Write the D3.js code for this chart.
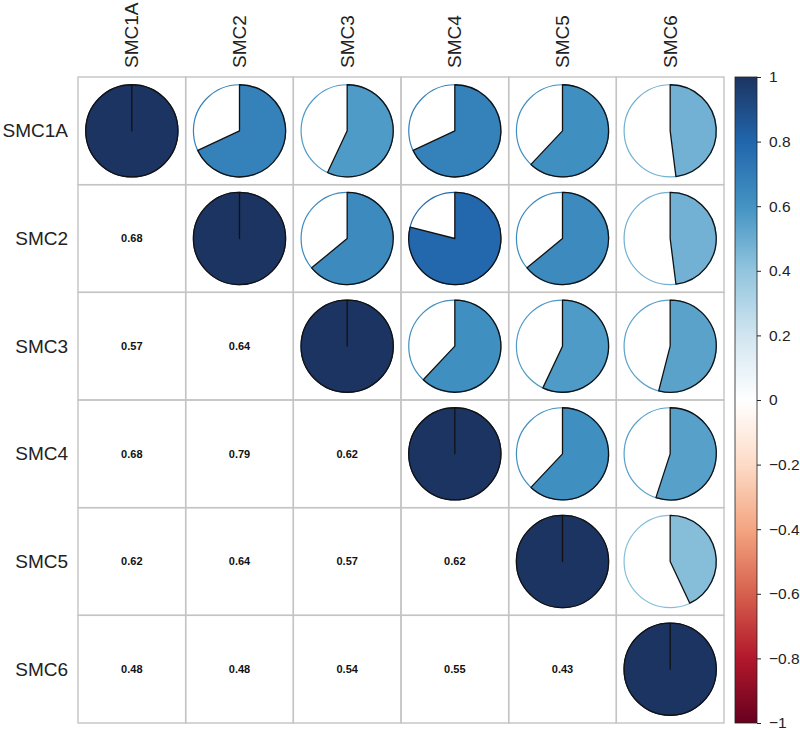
<!DOCTYPE html>
<html>
<head>
<meta charset="utf-8">
<script src="https://cdn.jsdelivr.net/npm/d3@7"></script>
<style>
  body { margin: 0; background: #fff; }
  text { font-family: "Liberation Sans", Arial, sans-serif; }
</style>
</head>
<body>
<div id="chart"></div>
<script>
var vars = ['SMC1A', 'SMC2', 'SMC3', 'SMC4', 'SMC5', 'SMC6'];

// correlation matrix rows (symmetric)
var corr = [
    [1.00, 0.68, 0.57, 0.68, 0.62, 0.48],
    [0.68, 1.00, 0.64, 0.79, 0.64, 0.48],
    [0.57, 0.64, 1.00, 0.62, 0.57, 0.54],
    [0.68, 0.79, 0.62, 1.00, 0.62, 0.55],
    [0.62, 0.64, 0.57, 0.62, 1.00, 0.43],
    [0.48, 0.48, 0.54, 0.55, 0.43, 1.00]
];

var barTicks = [1, 0.8, 0.6, 0.4, 0.2, 0, -0.2, -0.4, -0.6, -0.8, -1];
var palette = ['#67001F', '#B2182B', '#D6604D', '#F4A582', '#FDDBC7', '#FFFFFF',
               '#D1E5F0', '#92C5DE', '#4393C3', '#2166AC', '#1C3461'];

var width = 800, height = 730;

var svg = d3.select('#chart')
    .append('svg')
    .attr('width', width)
    .attr('height', height);

var x = d3.scaleBand().domain(vars).range([78, 724]);
var y = d3.scaleBand().domain(vars).range([77, 723]);

var color = d3.scaleLinear()
    .domain(d3.range(11).map(function(i) { return -1 + i * 0.2; }))
    .range(palette)
    .interpolate(d3.interpolateRgb);

var cells = [];
vars.forEach(function(rv, i) {
    vars.forEach(function(cv, j) {
        cells.push({ row: rv, col: cv, i: i, j: j, v: corr[i][j] });
    });
});

// grid
svg.selectAll('.cell')
    .data(cells)
    .enter()
    .append('rect')
    .attr('class', 'cell')
    .attr('x', function(d) { return x(d.col); })
    .attr('y', function(d) { return y(d.row); })
    .attr('width', x.bandwidth())
    .attr('height', y.bandwidth())
    .attr('fill', 'none')
    .attr('stroke', '#c4c4c4')
    .attr('stroke-width', 1.4);

// upper triangle + diagonal: pies
var upper = cells.filter(function(d) { return d.j >= d.i; });
var r = x.bandwidth() * 0.428;

var pie = svg.selectAll('.pie')
    .data(upper)
    .enter()
    .append('g')
    .attr('class', 'pie')
    .attr('transform', function(d) {
        return 'translate(' + (x(d.col) + x.bandwidth() / 2) + ',' + (y(d.row) + y.bandwidth() / 2) + ')';
    });

pie.append('circle')
    .attr('r', r)
    .attr('fill', '#fff')
    .attr('stroke', function(d) { return color(d.v); })
    .attr('stroke-width', 1.2);

pie.append('path')
    .attr('d', function(d) {
        var p = d3.path();
        var a0 = -Math.PI / 2;
        p.moveTo(0, 0);
        p.lineTo(0, -r);
        p.arc(0, 0, r, a0, a0 + 2 * Math.PI * d.v);
        p.closePath();
        return p.toString();
    })
    .attr('fill', function(d) { return color(d.v); })
    .attr('stroke', '#111')
    .attr('stroke-width', 1.3)
    .attr('stroke-linejoin', 'round');

// lower triangle: numbers
var lower = cells.filter(function(d) { return d.j < d.i; });
svg.selectAll('.num')
    .data(lower)
    .enter()
    .append('text')
    .attr('class', 'num')
    .attr('x', function(d) { return x(d.col) + x.bandwidth() / 2; })
    .attr('y', function(d) { return y(d.row) + y.bandwidth() / 2; })
    .attr('text-anchor', 'middle')
    .attr('dy', '0.35em')
    .attr('font-size', 11)
    .attr('font-weight', 'bold')
    .attr('fill', '#111')
    .text(function(d) { return d3.format('.2f')(d.v); });

// row labels
svg.selectAll('.rowlab')
    .data(vars)
    .enter()
    .append('text')
    .attr('class', 'rowlab')
    .attr('x', 68)
    .attr('y', function(d) { return y(d) + y.bandwidth() / 2; })
    .attr('dy', '0.35em')
    .attr('text-anchor', 'end')
    .attr('font-size', 19)
    .attr('fill', '#222')
    .text(function(d) { return d; });

// column labels
svg.selectAll('.collab')
    .data(vars)
    .enter()
    .append('text')
    .attr('class', 'collab')
    .attr('transform', function(d) {
        return 'translate(' + (x(d) + x.bandwidth() / 2) + ',68) rotate(-90)';
    })
    .attr('dy', '0.35em')
    .attr('text-anchor', 'start')
    .attr('font-size', 19)
    .attr('fill', '#222')
    .text(function(d) { return d; });

// colour bar
var barX = 735, barW = 22;
var yb = d3.scaleLinear().domain([-1, 1]).range([723, 77]);

var grad = svg.append('defs').append('linearGradient')
    .attr('id', 'cbar')
    .attr('x1', 0).attr('y1', 1)
    .attr('x2', 0).attr('y2', 0);
palette.forEach(function(c, i) {
    grad.append('stop')
        .attr('offset', i / 10)
        .attr('stop-color', c);
});

svg.append('rect')
    .attr('x', barX)
    .attr('y', yb(1))
    .attr('width', barW)
    .attr('height', yb(-1) - yb(1))
    .attr('fill', 'url(#cbar)')
    .attr('stroke', '#222')
    .attr('stroke-width', 0.8);

var axis = d3.axisRight(yb)
    .tickValues(barTicks)
    .tickSize(4)
    .tickPadding(8)
    .tickFormat(function(d) { return d3.format('')(d).replace('-', '\u2212'); });

var ag = svg.append('g')
    .attr('transform', 'translate(' + (barX + barW) + ',0)')
    .call(axis);
ag.select('.domain').remove();
ag.selectAll('.tick line').attr('stroke', '#222');
ag.selectAll('.tick text')
    .attr('font-size', 15.5)
    .attr('fill', '#222')
    .style('font-family', '"Liberation Sans", Arial, sans-serif');
</script>
</body>
</html>
